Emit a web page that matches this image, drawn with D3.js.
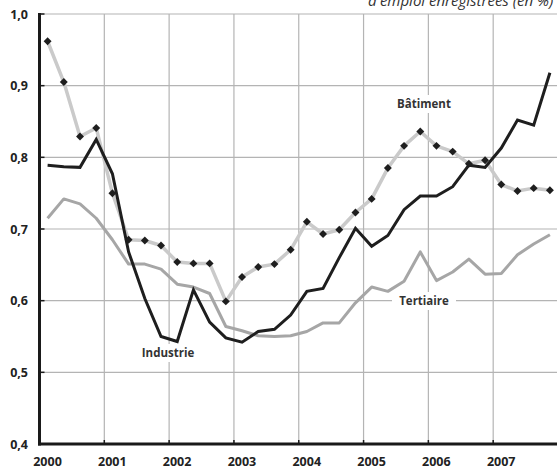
<!DOCTYPE html>
<html lang="fr">
<head>
<meta charset="utf-8">
<script src="https://d3js.org/d3.v7.min.js"></script>
<style>
  body { margin: 0; background: #fff; }
  svg { display: block; font-family: "Open Sans", "DejaVu Sans", sans-serif; }
</style>
</head>
<body>
<div id="chart"></div>
<script>
// Quarterly series, 2000 Q1 to 2007 Q4
var years = [2000, 2001, 2002, 2003, 2004, 2005, 2006, 2007];
var yTicks = [0.4, 0.5, 0.6, 0.7, 0.8, 0.9, 1.0];

var batiment = [0.962, 0.905, 0.829, 0.841, 0.750, 0.685, 0.684, 0.677,
                0.654, 0.652, 0.652, 0.599, 0.633, 0.647, 0.651, 0.671,
                0.710, 0.693, 0.699, 0.723, 0.742, 0.785, 0.816, 0.836,
                0.816, 0.808, 0.791, 0.796, 0.762, 0.753, 0.757, 0.754];
var industrie = [0.789, 0.787, 0.786, 0.825, 0.777, 0.668, 0.603, 0.550,
                 0.543, 0.615, 0.570, 0.548, 0.542, 0.557, 0.560, 0.580,
                 0.613, 0.617, 0.660, 0.701, 0.676, 0.691, 0.727, 0.746,
                 0.746, 0.759, 0.789, 0.786, 0.813, 0.852, 0.845, 0.918];
var tertiaire = [0.715, 0.742, 0.735, 0.715, 0.685, 0.651, 0.651, 0.644,
                 0.623, 0.619, 0.610, 0.564, 0.558, 0.551, 0.550, 0.551,
                 0.557, 0.569, 0.569, 0.597, 0.619, 0.613, 0.627, 0.668,
                 0.628, 0.640, 0.658, 0.637, 0.638, 0.664, 0.679, 0.692];

var W = 557, H = 470;
var svg = d3.select("#chart").append("svg")
  .attr("width", W).attr("height", H);

var x = d3.scaleLinear().domain([2000, 2008]).range([39.5, 558]);
var y = d3.scaleLinear().domain([0.4, 1.0]).range([444, 14]);

// time of each quarter = middle of the quarter
function t(i) { return 2000 + Math.floor(i / 4) + ((i % 4) + 0.5) / 4; }

// partial subtitle at top (cut by the frame, as in the source)
svg.append("text")
  .attr("x", 368).attr("y", 6)
  .attr("font-size", 15).attr("font-style", "italic")
  .attr("fill", "#333")
  .text("d'emploi enregistrées (en %)");

// grid
svg.append("g").selectAll("line")
  .data(yTicks.slice(1))
  .join("line")
  .attr("x1", x(2000)).attr("x2", W)
  .attr("y1", d => y(d)).attr("y2", d => y(d))
  .attr("stroke", "#b4b4b4").attr("stroke-width", 1.2);

svg.append("g").selectAll("line")
  .data(years.slice(1))
  .join("line")
  .attr("x1", d => x(d)).attr("x2", d => x(d))
  .attr("y1", y(1.0)).attr("y2", y(0.4))
  .attr("stroke", "#b4b4b4").attr("stroke-width", 1.2);

// short dark ticks inside the axes
svg.append("g").selectAll("line")
  .data(yTicks)
  .join("line")
  .attr("x1", x(2000)).attr("x2", x(2000) + 5)
  .attr("y1", d => y(d)).attr("y2", d => y(d))
  .attr("stroke", "#1a1a1a").attr("stroke-width", 1.5);

svg.append("g").selectAll("line")
  .data(years.slice(1))
  .join("line")
  .attr("x1", d => x(d)).attr("x2", d => x(d))
  .attr("y1", y(0.4)).attr("y2", y(0.4) - 4)
  .attr("stroke", "#1a1a1a").attr("stroke-width", 1.5);

// tick labels
svg.append("g").selectAll("text")
  .data(yTicks)
  .join("text")
  .attr("x", 28).attr("y", d => y(d) + 4.5)
  .attr("text-anchor", "end")
  .attr("font-size", 12.5).attr("font-weight", "bold").attr("fill", "#222")
  .text(d => d3.format(".1f")(d).replace(".", ","));

svg.append("g").selectAll("text")
  .data(years)
  .join("text")
  .attr("x", d => x(d) + 8).attr("y", 466)
  .attr("text-anchor", "middle")
  .attr("font-size", 12.5).attr("font-weight", "bold").attr("fill", "#222")
  .text(d => d);

// series labels with white boxes over the grid
var labels = [
  { name: "Bâtiment", cx: 424, cy: 108 },
  { name: "Tertiaire", cx: 424, cy: 305 },
  { name: "Industrie", cx: 168, cy: 357 }
];
var lg = svg.append("g").selectAll("g").data(labels).join("g");
lg.append("rect")
  .attr("x", d => d.cx - 32).attr("y", d => d.cy - 13)
  .attr("width", 64).attr("height", 18)
  .attr("fill", "#fff");
lg.append("text")
  .attr("x", d => d.cx).attr("y", d => d.cy)
  .attr("text-anchor", "middle")
  .attr("font-size", 11.5).attr("font-weight", "bold").attr("fill", "#333")
  .text(d => d.name);

// lines
var line = d3.line()
  .x((d, i) => x(t(i)))
  .y(d => y(d));

svg.append("path").datum(tertiaire)
  .attr("d", line).attr("fill", "none")
  .attr("stroke", "#a6a6a6").attr("stroke-width", 3)
  .attr("stroke-linejoin", "round");

svg.append("path").datum(batiment)
  .attr("d", line).attr("fill", "none")
  .attr("stroke", "#cacaca").attr("stroke-width", 3.5)
  .attr("stroke-linejoin", "round");

svg.append("path").datum(industrie)
  .attr("d", line).attr("fill", "none")
  .attr("stroke", "#1e1e1e").attr("stroke-width", 3)
  .attr("stroke-linejoin", "miter");

svg.append("g").selectAll("path")
  .data(batiment)
  .join("path")
  .attr("d", d3.symbol().type(d3.symbolDiamond2).size(40))
  .attr("transform", (d, i) => "translate(" + x(t(i)) + "," + y(d) + ")")
  .attr("fill", "#1e1e1e");

// axes
svg.append("line")
  .attr("x1", x(2000)).attr("x2", x(2000))
  .attr("y1", y(1.0) - 1).attr("y2", y(0.4) + 1.5)
  .attr("stroke", "#1a1a1a").attr("stroke-width", 3);
svg.append("line")
  .attr("x1", x(2000) - 1.5).attr("x2", W)
  .attr("y1", y(0.4)).attr("y2", y(0.4))
  .attr("stroke", "#1a1a1a").attr("stroke-width", 3);
</script>
</body>
</html>
